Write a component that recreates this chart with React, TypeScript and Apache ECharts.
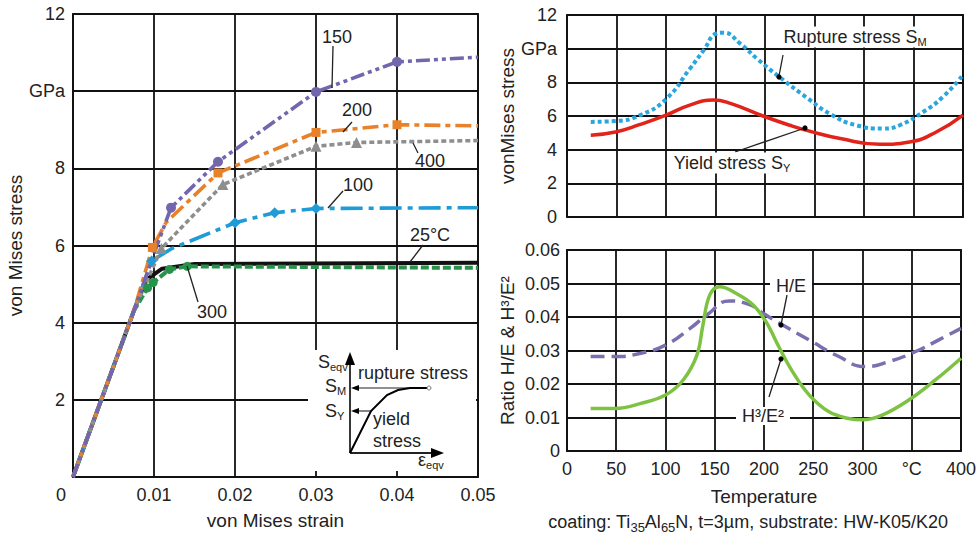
import React, { useEffect, useRef } from 'react';
import * as echarts from 'echarts';

// ---------- Left chart: von Mises stress vs strain ----------
const strainTicks = [0, 0.01, 0.02, 0.03, 0.04, 0.05];
const stressTicks = [0, 2, 4, 6, 8, 10, 12];

const strain25 = [0, 0.0075, 0.009, 0.011, 0.015, 0.05];
const stress25 = [0, 4.3, 5.1, 5.4, 5.52, 5.55];
const mark25 = [0, 0, 0, 0, 0, 0];

const strain300 = [0, 0.0075, 0.0092, 0.0099, 0.0119, 0.0141, 0.05];
const stress300 = [0, 4.3, 4.9, 5.04, 5.38, 5.46, 5.42];
const mark300 = [0, 0, 1, 1, 1, 1, 0];

const strain100 = [0, 0.0075, 0.0097, 0.0122, 0.02, 0.0249, 0.03, 0.05];
const stress100 = [0, 4.3, 5.6, 5.92, 6.59, 6.85, 6.96, 6.98];
const mark100 = [0, 0, 1, 0, 1, 1, 1, 0];

const strain400 = [0, 0.0075, 0.0109, 0.0185, 0.03, 0.035, 0.05];
const stress400 = [0, 4.3, 5.92, 7.58, 8.57, 8.67, 8.72];
const mark400 = [0, 0, 1, 1, 1, 1, 0];

const strain200 = [0, 0.0075, 0.0098, 0.0115, 0.0179, 0.03, 0.04, 0.05];
const stress200 = [0, 4.3, 5.95, 6.6, 7.88, 8.93, 9.13, 9.1];
const mark200 = [0, 0, 1, 0, 1, 1, 1, 0];

const strain150 = [0, 0.0075, 0.0102, 0.0121, 0.0179, 0.03, 0.04, 0.05];
const stress150 = [0, 4.3, 5.9, 6.98, 8.17, 9.98, 10.76, 10.88];
const mark150 = [0, 0, 0, 1, 1, 1, 1, 0];

// ---------- Right top: stress vs temperature ----------
const tempTicks = [0, 50, 100, 150, 200, 250, 300, 350, 400];
const tempRupture = [24, 49, 74, 100, 124, 138, 151, 158, 175, 192, 215, 242, 265, 292, 319, 336, 360, 380, 400];
const rupture = [5.65, 5.7, 6.05, 7.0, 8.8, 9.9, 10.9, 10.95, 10.3, 9.4, 8.3, 7.1, 6.15, 5.45, 5.25, 5.45, 6.25, 7.15, 8.45];
const tempYield = [24, 49, 74, 100, 124, 148, 165, 198, 225, 245, 276, 316, 346, 373, 400];
const yieldStress = [4.86, 5.05, 5.5, 6.05, 6.65, 6.95, 6.75, 6.0, 5.45, 5.1, 4.66, 4.32, 4.46, 5.05, 6.05];

// ---------- Right bottom: ratios vs temperature ----------
const ratioTicks = [0, 0.01, 0.02, 0.03, 0.04, 0.05, 0.06];
const tempHE = [24, 49, 75, 100, 125, 142, 165, 186, 199, 219, 246, 276, 303, 327, 354, 377, 400];
const ratioHE = [0.0282, 0.0282, 0.0292, 0.0316, 0.0366, 0.0406, 0.0448, 0.0436, 0.0411, 0.0376, 0.0331, 0.0282, 0.0252, 0.0267, 0.0297, 0.0331, 0.0366];
const tempH3E2 = [24, 49, 75, 100, 118, 132, 138, 145, 155, 172, 189, 202, 216, 229, 246, 266, 286, 300, 320, 347, 374, 400];
const ratioH3E2 = [0.0127, 0.0127, 0.0142, 0.0167, 0.0212, 0.0287, 0.0376, 0.0466, 0.049, 0.047, 0.0436, 0.0386, 0.0306, 0.0237, 0.0167, 0.0117, 0.0097, 0.0093, 0.0107, 0.0152, 0.0212, 0.0277];

const FONT = "'Liberation Sans', Arial, Helvetica, sans-serif";
const TXT = '#222';
const GRIDC = '#111';

function marked(xs: number[], ys: number[], marks: number[], symbol: string, size: number) {
  return xs.map((x, i) =>
    marks[i] ? { value: [x, ys[i]], symbol, symbolSize: size } : { value: [x, ys[i]], symbol: 'none' }
  );
}

function pairs(xs: number[], ys: number[]) {
  return xs.map((x, i) => [x, ys[i]]);
}

function txt(text: string, x: number, y: number, extra: any = {}) {
  return {
    type: 'text',
    x,
    y,
    z: 120,
    style: {
      text,
      fontSize: 18,
      fontFamily: FONT,
      fill: TXT,
      align: 'center',
      verticalAlign: 'middle',
      ...extra,
    },
  };
}
function ln(x1: number, y1: number, x2: number, y2: number, w = 1.3) {
  return { type: 'line', z: 115, shape: { x1, y1, x2, y2 }, style: { stroke: TXT, lineWidth: w } };
}
function dot(cx: number, cy: number) {
  return { type: 'circle', z: 116, shape: { cx, cy, r: 2.6 }, style: { fill: '#000' } };
}
const subRich = {
  s: { fontSize: 11, fontFamily: FONT, fill: TXT, verticalAlign: 'bottom', padding: [10, 0, 0, 0] },
};

export default function App() {
  const ref = useRef<HTMLDivElement>(null);
  useEffect(() => {
    if (!ref.current) return;
    const chart = echarts.init(ref.current, undefined, { renderer: 'svg' });
    const axisName = { fontSize: 19, color: TXT, fontFamily: FONT };
    const axisLab = { fontSize: 18, color: TXT, fontFamily: FONT };
    const split = { show: true, lineStyle: { color: GRIDC, width: 1.8 } };
    const lineSer = (name: string, data: any[], color: string, type: any, width = 3.6) => ({
      name,
      type: 'line',
      xAxisIndex: 0,
      yAxisIndex: 0,
      data,
      showSymbol: true,
      symbol: 'none',
      lineStyle: { color, width, type },
      itemStyle: { color },
      z: 3,
    });
    const option: any = {
      animation: false,
      backgroundColor: '#fff',
      textStyle: { fontFamily: FONT },
      grid: [
        { left: 73, top: 14, width: 405, height: 464, show: true, borderColor: GRIDC, borderWidth: 1.8 },
        { left: 567, top: 15, width: 396, height: 202, show: true, borderColor: GRIDC, borderWidth: 1.8 },
        { left: 567, top: 250, width: 396, height: 201, show: true, borderColor: GRIDC, borderWidth: 1.8 },
      ],
      xAxis: [
        {
          type: 'value', gridIndex: 0, min: strainTicks[0], max: strainTicks[strainTicks.length - 1], interval: 0.01,
          axisLine: { show: false }, axisTick: { show: false }, splitLine: split,
          axisLabel: {
            ...axisLab, margin: 9,
            formatter: (v: number) => (v === 0 ? '{z|0}' : v.toFixed(2)),
            rich: { z: { fontSize: 18, fontFamily: FONT, color: TXT, padding: [0, 24, 0, 0] } },
          },
          name: 'von Mises strain', nameLocation: 'middle', nameGap: 34, nameTextStyle: axisName,
        },
        {
          type: 'value', gridIndex: 1, min: tempTicks[0], max: tempTicks[tempTicks.length - 1], interval: 50,
          axisLine: { show: false }, axisTick: { show: false }, splitLine: split, axisLabel: { show: false },
        },
        {
          type: 'value', gridIndex: 2, min: tempTicks[0], max: tempTicks[tempTicks.length - 1], interval: 50,
          axisLine: { show: false }, axisTick: { show: false }, splitLine: split,
          axisLabel: { ...axisLab, margin: 9, formatter: (v: number) => (v === 350 ? '°C' : String(v)) },
          name: 'Temperature', nameLocation: 'middle', nameGap: 36, nameTextStyle: axisName,
        },
      ],
      yAxis: [
        {
          type: 'value', gridIndex: 0, min: stressTicks[0], max: stressTicks[stressTicks.length - 1], interval: 2,
          axisLine: { show: false }, axisTick: { show: false }, splitLine: split,
          axisLabel: { ...axisLab, margin: 8, formatter: (v: number) => (v === 0 ? '' : v === 10 ? 'GPa' : String(v)) },
          name: 'von Mises stress', nameLocation: 'middle', nameGap: 45, nameTextStyle: axisName,
        },
        {
          type: 'value', gridIndex: 1, min: 0, max: 12, interval: 2,
          axisLine: { show: false }, axisTick: { show: false }, splitLine: split,
          axisLabel: { ...axisLab, margin: 10, formatter: (v: number) => (v === 10 ? 'GPa' : String(v)) },
          name: 'vonMises stress', nameLocation: 'middle', nameGap: 50, nameTextStyle: axisName,
        },
        {
          type: 'value', gridIndex: 2, min: ratioTicks[0], max: ratioTicks[ratioTicks.length - 1], interval: 0.01,
          axisLine: { show: false }, axisTick: { show: false }, splitLine: split,
          axisLabel: { ...axisLab, margin: 7, formatter: (v: number) => (v === 0 ? '0' : v.toFixed(2)) },
          name: 'Ratio H/E & H³/E²', nameLocation: 'middle', nameGap: 50, nameTextStyle: axisName,
        },
      ],
      series: [
        lineSer('25°C', marked(strain25, stress25, mark25, 'circle', 8), '#111', 'solid', 4),
        lineSer('300', marked(strain300, stress300, mark300, 'circle', 9), '#27924a', [8, 3], 4),
        lineSer('100', marked(strain100, stress100, mark100, 'diamond', 11), '#1f9bd8', [22, 6, 5, 6], 3.6),
        lineSer('400', marked(strain400, stress400, mark400, 'triangle', 11), '#8e8e8e', [5, 3], 3.6),
        lineSer('200', marked(strain200, stress200, mark200, 'rect', 9), '#e8822a', [16, 5, 5, 5], 3.6),
        lineSer('150', marked(strain150, stress150, mark150, 'circle', 10), '#7366ad', [14, 4, 4, 4, 4, 4], 3.6),
        {
          name: 'Rupture stress', type: 'line', xAxisIndex: 1, yAxisIndex: 1, smooth: true, showSymbol: false,
          data: pairs(tempRupture, rupture), lineStyle: { color: '#2aa6df', width: 4, type: [4, 3] },
        },
        {
          name: 'Yield stress', type: 'line', xAxisIndex: 1, yAxisIndex: 1, smooth: true, showSymbol: false,
          data: pairs(tempYield, yieldStress), lineStyle: { color: '#e2231a', width: 3.5, type: 'solid' },
        },
        {
          name: 'H/E', type: 'line', xAxisIndex: 2, yAxisIndex: 2, smooth: true, showSymbol: false,
          data: pairs(tempHE, ratioHE), lineStyle: { color: '#7a70b0', width: 3.5, type: [14, 7] },
        },
        {
          name: 'H³/E²', type: 'line', xAxisIndex: 2, yAxisIndex: 2, smooth: 0.4, showSymbol: false,
          data: pairs(tempH3E2, ratioH3E2), lineStyle: { color: '#7dc242', width: 3.5, type: 'solid' },
        },
      ],
      graphic: [
        // left chart labels
        txt('150', 337, 37),
        ln(333, 46, 332, 88),
        txt('200', 357, 110),
        ln(352, 122, 343, 132),
        txt('400', 430, 161),
        ln(413, 143, 418, 153),
        txt('100', 358, 185),
        ln(343, 191, 328, 208),
        txt('25°C', 430, 235),
        ln(423, 245, 410, 262),
        txt('300', 212, 312),
        ln(187, 266, 198, 302),
        // inset
        { type: 'rect', z: 110, shape: { x: 308, y: 350, width: 168, height: 121 }, style: { fill: '#fff' } },
        ln(350, 453, 350, 362, 1.8),
        { type: 'polygon', z: 116, shape: { points: [[345, 365], [355, 365], [350, 352]] }, style: { fill: '#000' } },
        ln(350, 453, 432, 453, 1.8),
        { type: 'polygon', z: 116, shape: { points: [[431, 448], [431, 458], [444, 453]] }, style: { fill: '#000' } },
        { type: 'polyline', z: 116, shape: { points: [[350, 453], [371, 411], [387, 395], [398, 390], [410, 388], [428, 388]] }, style: { stroke: '#000', lineWidth: 2, fill: 'none' } },
        ln(428, 388, 357, 388, 1.1),
        { type: 'polygon', z: 116, shape: { points: [[351, 388], [359, 385], [359, 391]] }, style: { fill: '#000' } },
        ln(372, 411, 357, 411, 1.1),
        { type: 'polygon', z: 116, shape: { points: [[351, 411], [359, 408], [359, 414]] }, style: { fill: '#000' } },
        { type: 'circle', z: 117, shape: { cx: 429, cy: 388, r: 2 }, style: { fill: '#fff', stroke: '#777', lineWidth: 1 } },
        txt('S{s|eqv}', 318, 362, { align: 'left', rich: subRich }),
        txt('S{s|M}', 325, 386, { align: 'left', rich: subRich }),
        txt('S{s|Y}', 325, 411, { align: 'left', rich: subRich }),
        txt('rupture stress', 358, 373, { align: 'left' }),
        txt('yield', 373, 419, { align: 'left' }),
        txt('stress', 373, 441, { align: 'left' }),
        txt('ε{s|eqv}', 418, 460, { align: 'left', rich: subRich }),
        // right top labels
        txt('Rupture stress S{s|M}', 855, 37, { rich: subRich, backgroundColor: '#fff', padding: [0, 2, 0, 2] }),
        ln(783, 55, 779, 76),
        dot(779, 77),
        txt('Yield stress S{s|Y}', 732, 163, { rich: subRich, backgroundColor: '#fff', padding: [0, 2, 0, 2] }),
        ln(735, 152, 805, 128),
        dot(805, 128),
        // right bottom labels
        txt('H/E', 791, 286, { backgroundColor: '#fff', padding: [0, 6, 0, 6] }),
        ln(787, 295, 781, 325),
        dot(781, 325),
        txt('H³/E²', 763, 416, { backgroundColor: '#fff', padding: [0, 6, 0, 6] }),
        ln(769, 397, 781, 359),
        dot(781, 359),
        // caption
        txt('coating: Ti{s|35}Al{s|65}N, t=3µm, substrate: HW-K05/K20', 748, 522, {
          fontSize: 18,
          rich: { s: { fontSize: 13, fontFamily: FONT, fill: TXT, verticalAlign: 'bottom', padding: [10, 0, 0, 0] } },
        }),
      ],
    };
    chart.setOption(option);
    return () => chart.dispose();
  }, []);
  return (
    <div
      ref={ref}
      style={{ position: 'fixed', left: 0, top: 0, width: 979, height: 535, background: '#fff' }}
    />
  );
}
